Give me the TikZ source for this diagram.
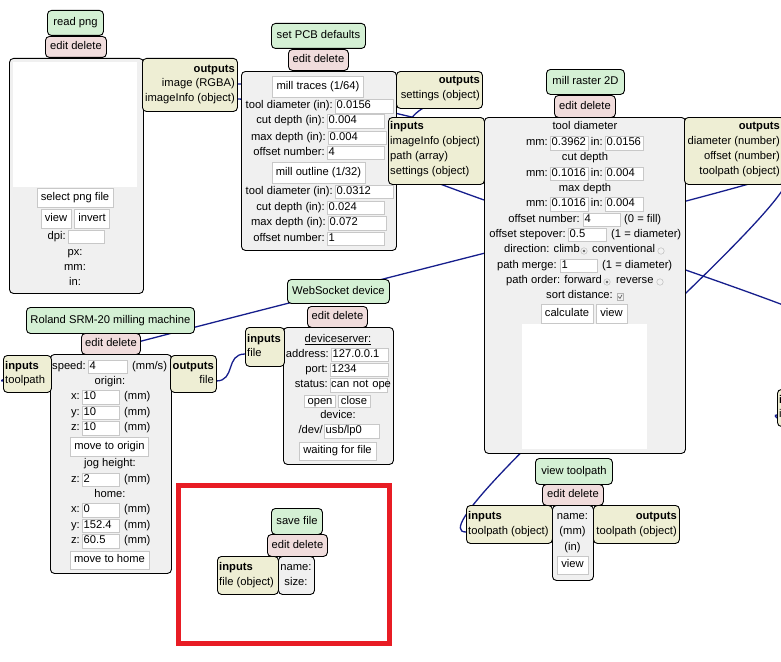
\documentclass[tikz,border=0pt]{standalone}
\usepackage{fontspec}
\setmainfont{Liberation Sans}
\usepackage{tikz}
\definecolor{titlegreen}{RGB}{212,240,212}
\definecolor{editpink}{RGB}{240,220,220}
\definecolor{ioyellow}{RGB}{238,238,212}
\definecolor{bodygray}{RGB}{240,240,240}
\definecolor{fieldgray}{RGB}{200,200,200}
\definecolor{wireblue}{RGB}{22,30,140}
\definecolor{markred}{RGB}{232,28,36}
\tikzset{
    every node/.style={inner sep=0pt, font=\fontsize{11.2}{15}\selectfont}
}
\tikzset{
    modbox/.style={draw, line width=0.9pt, rounded corners=4pt, anchor=north west,
    	text height=8pt, text depth=2.5pt},
    titlebox/.style={modbox, fill=titlegreen},
    editbox/.style={modbox, fill=editpink},
    bodybox/.style={modbox, fill=bodygray},
    iobox/.style={modbox, fill=ioyellow},
    canvasbox/.style={fill=white, anchor=north west},
    fieldbox/.style={draw=fieldgray, fill=white, anchor=west, text width=#1,
    	align=left, inner xsep=1.5pt, minimum height=13.5pt, text height=8pt,
    	text depth=2.5pt},
    btnbox/.style={draw=fieldgray, fill=white, inner xsep=4pt, minimum height=19pt,
    	text height=8pt, text depth=2.5pt},
    lbl/.style={anchor=mid},
    lbll/.style={anchor=mid west},
    lblr/.style={anchor=mid east},
    radio/.style={circle, draw=gray!60, fill=gray!10, minimum size=6.5pt},
    radioon/.style={radio, path picture={\fill[gray!75!black]
    	(path picture bounding box.center) circle (1.4pt);}},
    chkbox/.style={draw=gray!60, fill=gray!10, minimum size=6.5pt,
    	path picture={\draw[gray!75!black, line width=0.7pt]
    	([xshift=1.3pt]path picture bounding box.west)
    	-- ([yshift=1.3pt]path picture bounding box.south)
    	-- ([xshift=-1.2pt,yshift=-1.5pt]path picture bounding box.north east);}}
}
\tikzset{
    wire/.style={draw=wireblue, line width=1.3pt}
}
\pgfdeclarelayer{background}
\pgfsetlayers{background,main}

\begin{document}
\begin{tikzpicture}[x=1pt, y=-1pt]
	\useasboundingbox (0,0) rectangle (781,661);

	\node[titlebox, minimum width=56pt, minimum height=25pt] (pngtitle) at (47,10) {read png};
	\node[editbox, minimum width=61pt, minimum height=21pt] (pngedit) at (45,36) {edit delete};
	\node[bodybox, minimum width=134pt, minimum height=235pt] (pngbody) at (9,58) {};
	\node[canvasbox, minimum width=124pt, minimum height=125pt] (pngcanvas) at (13,62) {};
	\node[btnbox] (pngselect) at (75,197.5) {select png file};
	\node[btnbox] (pngview) at (56,219) {view};
	\node[btnbox] (pnginvert) at (92,219) {invert};
	\node[lblr] (pngdpi) at (66,236.5) {dpi:};
	\node[fieldbox=33pt] (pngdpifield) at (68,236.5) {};
	\node[lbl] (pngpx) at (75,253) {px:};
	\node[lbl] (pngmm) at (75,268) {mm:};
	\node[lbl] (pngin) at (75,283) {in:};
	\node[iobox, minimum width=95pt, minimum height=53pt] (pngout) at (142,58) {};
	\node[lblr] (pngouthead) at (235,70) {\textbf{outputs}};
	\node[lblr] (pngoutimg) at (235,84) {image (RGBA)};
	\node[lblr] (pngoutinfo) at (235,99) {imageInfo (object)};
	\coordinate (pngimg) at (237,84);
	\coordinate (pnginfo) at (237,99);

	\node[titlebox, minimum width=94pt, minimum height=25pt] (pcbtitle) at (271,23) {set PCB defaults};
	\node[editbox, minimum width=60pt, minimum height=21pt] (pcbedit) at (288,49) {edit delete};
	\node[bodybox, minimum width=155pt, minimum height=179pt] (pcbbody) at (241,71) {};
	\node[btnbox, minimum height=21pt] (pcbtraces) at (318,86.5) {mill traces (1/64)};
	\node[lblr] (pcbtd1) at (333,106) {tool diameter (in):};
	\node[fieldbox=55pt] (pcbtd1f) at (335,106) {0.0156};
	\node[lblr] (pcbcd1) at (325,121) {cut depth (in):};
	\node[fieldbox=54pt] (pcbcd1f) at (327,121) {0.004};
	\node[lblr] (pcbmd1) at (326,137.5) {max depth (in):};
	\node[fieldbox=55pt] (pcbmd1f) at (328,137.5) {0.004};
	\node[lblr] (pcbon1) at (325,152.5) {offset number:};
	\node[fieldbox=54pt] (pcbon1f) at (327,152.5) {4};
	\node[btnbox, minimum height=21pt] (pcboutline) at (318.5,172.5) {mill outline (1/32)};
	\node[lblr] (pcbtd2) at (333,191.5) {tool diameter (in):};
	\node[fieldbox=55pt] (pcbtd2f) at (335,191.5) {0.0312};
	\node[lblr] (pcbcd2) at (325,207.5) {cut depth (in):};
	\node[fieldbox=54pt] (pcbcd2f) at (327,207.5) {0.024};
	\node[lblr] (pcbmd2) at (326,223) {max depth (in):};
	\node[fieldbox=55pt] (pcbmd2f) at (328,223) {0.072};
	\node[lblr] (pcbon2) at (325,238.5) {offset number:};
	\node[fieldbox=54pt] (pcbon2f) at (327,238.5) {1};
	\node[iobox, minimum width=86pt, minimum height=37pt] (pcbout) at (396,71) {};
	\node[lblr] (pcbouthead) at (480,81) {\textbf{outputs}};
	\node[lblr] (pcboutset) at (480,96) {settings (object)};
	\coordinate (setout) at (482,96);

	\node[titlebox, minimum width=78pt, minimum height=25pt] (mrtitle) at (546,69) {mill raster 2D};
	\node[editbox, minimum width=61pt, minimum height=22pt] (mredit) at (554,95) {edit delete};
	\node[bodybox, minimum width=201pt, minimum height=336pt] (mrbody) at (484,117) {};
	\node[iobox, minimum width=96pt, minimum height=67pt] (mrin) at (388,117) {};
	\node[lbll] (mrinhead) at (390,127) {\textbf{inputs}};
	\node[lbll] (mrininfo) at (390,142) {imageInfo (object)};
	\node[lbll] (mrinpath) at (390,157) {path (array)};
	\node[lbll] (mrinset) at (390,172) {settings (object)};
	\coordinate (mrinfo) at (388,142);
	\coordinate (mrpath) at (388,157);
	\coordinate (mrset) at (388,172);
	\node[iobox, minimum width=100pt, minimum height=67pt] (mrout) at (684,117) {};
	\node[lblr] (mrouthead) at (780,127) {\textbf{outputs}};
	\node[lblr] (mroutdiam) at (780,142) {diameter (number)};
	\node[lblr] (mroutoff) at (780,157) {offset (number)};
	\node[lblr] (mrouttool) at (780,172) {toolpath (object)};
	\coordinate (mrtool) at (783,172);
	\node[lbl] (mrtd) at (585,127) {tool diameter};
	\node[lblr] (mrtdmm) at (548,143) {mm:};
	\node[fieldbox=35pt] (mrtdmmf) at (550,143) {0.3962};
	\node[lblr] (mrtdin) at (603,143) {in:};
	\node[fieldbox=35pt] (mrtdinf) at (605,143) {0.0156};
	\node[lbl] (mrcd) at (585,158) {cut depth};
	\node[lblr] (mrcdmm) at (548,173.5) {mm:};
	\node[fieldbox=35pt] (mrcdmmf) at (550,173.5) {0.1016};
	\node[lblr] (mrcdin) at (603,173.5) {in:};
	\node[fieldbox=35pt] (mrcdinf) at (605,173.5) {0.004};
	\node[lbl] (mrmd) at (585,188.5) {max depth};
	\node[lblr] (mrmdmm) at (548,204) {mm:};
	\node[fieldbox=35pt] (mrmdmmf) at (550,204) {0.1016};
	\node[lblr] (mrmdin) at (603,204) {in:};
	\node[fieldbox=35pt] (mrmdinf) at (605,204) {0.004};
	\node[lblr] (mron) at (580,219.5) {offset number:};
	\node[fieldbox=34pt] (mronf) at (583,219.5) {4};
	\node[lbll] (mronx) at (624,219.5) {(0 = fill)};
	\node[lblr] (mrso) at (566,234.5) {offset stepover:};
	\node[fieldbox=35pt] (mrsof) at (568,234.5) {0.5};
	\node[lbll] (mrsox) at (611,234.5) {(1 = diameter)};
	\node[lblr] (mrdir) at (580,250) {direction: climb};
	\node[radioon] (mrdirclimb) at (584,251) {};
	\node[lbll] (mrdirconv) at (592,250) {conventional};
	\node[radio] (mrdirconvr) at (661,251) {};
	\node[lblr] (mrpm) at (557,265.5) {path merge:};
	\node[fieldbox=34pt] (mrpmf) at (560,265.5) {1};
	\node[lbll] (mrpmx) at (602,265.5) {(1 = diameter)};
	\node[lblr] (mrpo) at (602,281) {path order: forward};
	\node[radioon] (mrpofwd) at (607,282) {};
	\node[lbll] (mrporev) at (616,281) {reverse};
	\node[radio] (mrporevr) at (660,282) {};
	\node[lblr] (mrsd) at (613,295.5) {sort distance:};
	\node[chkbox] (mrsdchk) at (620,296.5) {};
	\node[btnbox] (mrcalc) at (567,313.5) {calculate};
	\node[btnbox] (mrview) at (611.5,313.5) {view};
	\node[canvasbox, minimum width=125pt, minimum height=125pt] (mrcanvas) at (522,324) {};

	\node[titlebox, minimum width=168pt, minimum height=26pt] (roltitle) at (26,307) {Roland SRM-20 milling machine};
	\node[editbox, minimum width=59pt, minimum height=21pt] (roledit) at (81,333) {edit delete};
	\node[bodybox, minimum width=121pt, minimum height=219pt] (rolbody) at (50,354) {};
	\node[iobox, minimum width=48pt, minimum height=37pt] (rolinbox) at (3,355) {};
	\node[lbll] (rolinhead) at (5,367) {\textbf{inputs}};
	\node[lbll] (rolintool) at (5,381) {toolpath};
	\coordinate (rolin) at (3,381);
	\node[iobox, minimum width=46pt, minimum height=37pt] (roloutbox) at (170,355) {};
	\node[lblr] (rolouthead) at (214,367) {\textbf{outputs}};
	\node[lblr] (roloutfile) at (214,381) {file};
	\coordinate (rolout) at (216,381);
	\node[lblr] (rolspeed) at (86,366.5) {speed:};
	\node[fieldbox=36pt] (rolspeedf) at (88,366.5) {4};
	\node[lbll] (rolspeedu) at (132,366.5) {(mm/s)};
	\node[lbl] (rolorigin) at (110,381.5) {origin:};
	\node[lblr] (rolox) at (80,397) {x:};
	\node[fieldbox=34pt] (roloxf) at (82,397) {10};
	\node[lbll] (roloxu) at (124,397) {(mm)};
	\node[lblr] (roloy) at (80,412.5) {y:};
	\node[fieldbox=34pt] (roloyf) at (82,412.5) {10};
	\node[lbll] (roloyu) at (124,412.5) {(mm)};
	\node[lblr] (roloz) at (80,428) {z:};
	\node[fieldbox=34pt] (rolozf) at (82,428) {10};
	\node[lbll] (rolozu) at (124,428) {(mm)};
	\node[btnbox] (rolmoveo) at (109.5,446.5) {move to origin};
	\node[lbl] (roljog) at (110,464) {jog height:};
	\node[lblr] (roljz) at (80,479.5) {z:};
	\node[fieldbox=34pt] (roljzf) at (82,479.5) {2};
	\node[lbll] (roljzu) at (124,479.5) {(mm)};
	\node[lbl] (rolhome) at (110,494.5) {home:};
	\node[lblr] (rolhx) at (80,510) {x:};
	\node[fieldbox=34pt] (rolhxf) at (82,510) {0};
	\node[lbll] (rolhxu) at (124,510) {(mm)};
	\node[lblr] (rolhy) at (80,525.5) {y:};
	\node[fieldbox=34pt] (rolhyf) at (82,525.5) {152.4};
	\node[lbll] (rolhyu) at (124,525.5) {(mm)};
	\node[lblr] (rolhz) at (80,541) {z:};
	\node[fieldbox=34pt] (rolhzf) at (82,541) {60.5};
	\node[lbll] (rolhzu) at (124,541) {(mm)};
	\node[btnbox, minimum height=18pt] (rolmoveh) at (109.5,560) {move to home};

	\node[titlebox, minimum width=102pt, minimum height=24pt] (wstitle) at (287,279) {WebSocket device};
	\node[editbox, minimum width=60pt, minimum height=21pt] (wsedit) at (307,306) {edit delete};
	\node[bodybox, minimum width=110pt, minimum height=137pt] (wsbody) at (283,327) {};
	\node[iobox, minimum width=39pt, minimum height=39pt] (wsinbox) at (245,327) {};
	\node[lbll] (wsinhead) at (247,340) {\textbf{inputs}};
	\node[lbll] (wsinfile) at (247,354) {file};
	\coordinate (wsin) at (245,354);
	\node[lbl] (wsserver) at (338,340) {\underline{deviceserver:}};
	\node[lblr] (wsaddr) at (329,354.5) {address:};
	\node[fieldbox=54pt] (wsaddrf) at (331,354.5) {127.0.0.1};
	\node[lblr] (wsport) at (328,369.5) {port:};
	\node[fieldbox=55pt] (wsportf) at (330,369.5) {1234};
	\node[lblr] (wsstatus) at (328,385) {status:};
	\node[fieldbox=55pt, inner xsep=1pt] (wsstatusf) at (330,385) {\mbox{can not ope}};
	\node[btnbox, minimum height=12pt, inner xsep=3pt] (wsopen) at (320,401.5) {open};
	\node[btnbox, minimum height=12pt, inner xsep=3pt] (wsclose) at (354,401.5) {close};
	\node[lbl] (wsdevice) at (338,416) {device:};
	\node[lblr] (wsdev) at (323,431) {/dev/};
	\node[fieldbox=52pt] (wsdevf) at (324,431) {usb/lp0};
	\node[btnbox, minimum height=18pt] (wswait) at (337.5,451) {waiting for file};

	\node[titlebox, minimum width=51pt, minimum height=26pt] (sftitle) at (271,508) {save file};
	\node[editbox, minimum width=60pt, minimum height=22pt] (sfedit) at (267,534) {edit delete};
	\node[iobox, minimum width=61pt, minimum height=38pt] (sfinbox) at (217,556) {};
	\node[lbll] (sfinhead) at (219,568) {\textbf{inputs}};
	\node[lbll] (sfinfile) at (219,583) {file (object)};
	\node[bodybox, minimum width=36pt, minimum height=38pt] (sfbody) at (278,556) {};
	\node[lbl] (sfname) at (296,568) {name:};
	\node[lbl] (sfsize) at (296,583) {size:};
	\draw[markred, line width=5pt] (178.5,485.5) rectangle (389.5,643.5);

	\node[titlebox, minimum width=77pt, minimum height=26pt] (vttitle) at (535,458) {view toolpath};
	\node[editbox, minimum width=61pt, minimum height=21pt] (vtedit) at (542,484) {edit delete};
	\node[iobox, minimum width=86pt, minimum height=38pt] (vtinbox) at (466,505) {};
	\node[lbll] (vtinhead) at (468,517) {\textbf{inputs}};
	\node[lbll] (vtintool) at (468,532) {toolpath (object)};
	\coordinate (vtin) at (466,532);
	\node[bodybox, minimum width=41pt, minimum height=75pt] (vtbody) at (552,505) {};
	\node[lbl] (vtname) at (572.5,517) {name:};
	\node[lbl] (vtmm) at (572.5,532) {(mm)};
	\node[lbl] (vtin2) at (572.5,548) {(in)};
	\node[btnbox, minimum height=18pt] (vtview) at (572.5,565) {view};
	\node[iobox, minimum width=86pt, minimum height=38pt] (vtoutbox) at (593,505) {};
	\node[lblr] (vtouthead) at (677,517) {\textbf{outputs}};
	\node[lblr] (vtouttool) at (677,532) {toolpath (object)};

	\node[iobox, minimum width=40pt, minimum height=37pt] (offbox) at (777,389) {};
	\node[lbll] (offhead) at (779,401) {\textbf{i}};
	\node[lbll] (offport) at (779,415) {i};
	\coordinate (offin) at (777,415);
	\coordinate (offa) at (820,175);
	\coordinate (offb) at (830,330);
	\coordinate (offc) at (800,440);

	\begin{pgfonlayer}{background}
		\draw[wire] (pngimg) .. controls +(93,0) and +(-260,0) .. (offa);
		\draw[wire] (pnginfo) .. controls +(40,0) and +(-40,0) .. (mrinfo);
		\draw[wire] (setout) .. controls +(-92,4) and +(25,-40) .. (mrset);
		\draw[wire] (offb) .. controls +(60,0) and +(-60,0) .. (mrpath);
		\draw[wire] (mrtool) .. controls +(40,0) and +(-40,0) .. (rolin);
		\draw[wire] (mrtool) .. controls +(60,0) and +(-60,0) .. (vtin);
		\draw[wire] (rolout) .. controls +(20,0) and +(-20,0) .. (wsin);
		\draw[wire] (offc) .. controls +(20,0) and +(-12,0) .. (offin);
	\end{pgfonlayer}
\end{tikzpicture}
\end{document}
